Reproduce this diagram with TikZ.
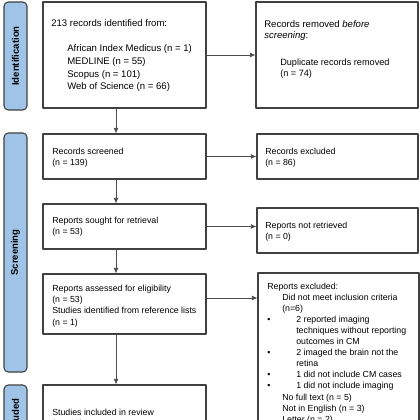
\documentclass[tikz,border=0pt]{standalone}
\usepackage{fontspec}
\setmainfont{Liberation Sans}
\usetikzlibrary{arrows.meta}

\newlength\pxu
\setlength\pxu{0.025cm}
\newcommand\txtrows[1]{\begin{tabular}[t]{@{}l@{}}#1\end{tabular}}
\definecolor{barblue}{RGB}{160,196,232}
\definecolor{edgegray}{RGB}{64,64,64}

\tikzset{
  box/.style={draw=edgegray, line width=0.75pt, fill=white, inner sep=0pt},
  bar/.style={draw=edgegray, line width=0.75pt, fill=barblue, rounded corners=3pt,
    rotate=90, inner sep=0pt, font=\fontsize{6.8}{8}\selectfont\bfseries},
  toptxt/.style={anchor=base west, inner sep=0pt, font=\fontsize{6.8}{8.9}\selectfont},
  txt/.style={anchor=base west, inner sep=0pt, font=\fontsize{6.25}{8.1}\selectfont},
  flow/.style={draw=black!70, line width=0.6pt, -{Latex[length=4pt,width=3.6pt]}},
}

\begin{document}
\begin{tikzpicture}[x=0.025cm, y=-0.025cm, line cap=round, line join=round]
  \useasboundingbox (0,0) rectangle (420,420);
  \clip (0,0) rectangle (420,420);
  \coordinate (spine) at (116,0);

  % phase bars
  \node[bar, minimum width=108*\pxu, minimum height=23*\pxu] (barident) at (15.5,56) {Identification};
  \node[bar, minimum width=239*\pxu, minimum height=23*\pxu] (barscreen) at (15.5,252.5) {Screening};
  \node[bar, minimum width=66*\pxu, minimum height=23*\pxu] (barincl) at (15.5,418) {Included};

  % boxes
  \node[box, minimum width=163*\pxu, minimum height=106*\pxu] (ident) at (124.5,55) {};
  \node[box, minimum width=162*\pxu, minimum height=106*\pxu] (removed) at (337,55) {};
  \node[box, minimum width=163*\pxu, minimum height=45*\pxu] (screened) at (124.5,156.5) {};
  \node[box, minimum width=161*\pxu, minimum height=45*\pxu] (excluded) at (337.5,156.5) {};
  \node[box, minimum width=163*\pxu, minimum height=45*\pxu] (sought) at (124.5,226.5) {};
  \node[box, minimum width=161*\pxu, minimum height=45*\pxu] (notret) at (337.5,230.5) {};
  \node[box, minimum width=163*\pxu, minimum height=60*\pxu] (assessed) at (124.5,304) {};
  \node[box, minimum width=161*\pxu, minimum height=168*\pxu] (repexcl) at (338.5,357) {};
  \node[box, minimum width=163*\pxu, minimum height=66*\pxu] (included) at (124.5,418) {};

  % texts
  \node[toptxt] (identhead) at (51,27) {213 records identified from:};
  \node[toptxt, font=\fontsize{6.8}{8.9}\selectfont] (identlist) at (67,52)
    {\txtrows{African Index Medicus (n = 1)\\MEDLINE (n = 55)\\Scopus (n = 101)\\Web of Science (n = 66)}};
  \node[toptxt, font=\fontsize{6.8}{7.5}\selectfont] (removedhead) at (264,28)
    {\txtrows{Records removed \textit{before}\\\textit{screening}:}};
  \node[txt, font=\fontsize{6.5}{7.6}\selectfont] (removeddup) at (280,66)
    {\txtrows{Duplicate records removed\\(n = 74)}};
  \node[txt] (screenedtxt) at (52,154.5) {\txtrows{Records screened\\(n = 139)}};
  \node[txt] (excludedtxt) at (265,154.5) {\txtrows{Records excluded\\(n = 86)}};
  \node[txt] (soughttxt) at (52,223.5) {\txtrows{Reports sought for retrieval\\(n = 53)}};
  \node[txt] (notrettxt) at (265,228) {\txtrows{Reports not retrieved\\(n = 0)}};
  \node[txt] (assessedtxt) at (52,291)
    {\txtrows{Reports assessed for eligibility\\(n = 53)\\Studies identified from reference lists\\(n = 1)}};
  \node[txt, font=\fontsize{6.25}{7.9}\selectfont] (repexcltxt) at (267,289)
    {\txtrows{Reports excluded:\\
     \hspace*{15\pxu}Did not meet inclusion criteria\\
     \hspace*{15\pxu}(n=6)\\
     \makebox[29\pxu][l]{•}2 reported imaging\\
     \hspace*{29\pxu}techniques without reporting\\
     \hspace*{29\pxu}outcomes in CM\\
     \makebox[29\pxu][l]{•}2 imaged the brain not the\\
     \hspace*{29\pxu}retina\\
     \makebox[29\pxu][l]{•}1 did not include CM cases\\
     \makebox[29\pxu][l]{•}1 did not include imaging\\
     \hspace*{15\pxu}No full text (n = 5)\\
     \hspace*{15\pxu}Not in English (n = 3)\\
     \hspace*{15\pxu}Letter (n = 2)}};
  \node[txt] (includedtxt) at (52,415) {\txtrows{Studies included in review\\(n = 25)}};

  % connectors
  \draw[flow] (ident.east) -- (removed.west);
  \draw[flow] (ident.south -| spine) -- (screened.north -| spine);
  \draw[flow] (screened.east) -- (excluded.west);
  \draw[flow] (screened.south -| spine) -- (sought.north -| spine);
  \draw[flow] (sought.east) -- (sought.east -| notret.west);
  \draw[flow] (sought.south -| spine) -- (assessed.north -| spine);
  \draw[flow] ([yshift=6*\pxu]assessed.east) -- ([yshift=6*\pxu]assessed.east -| repexcl.west);
  \draw[flow] (assessed.south -| spine) -- (included.north -| spine);
\end{tikzpicture}
\end{document}
